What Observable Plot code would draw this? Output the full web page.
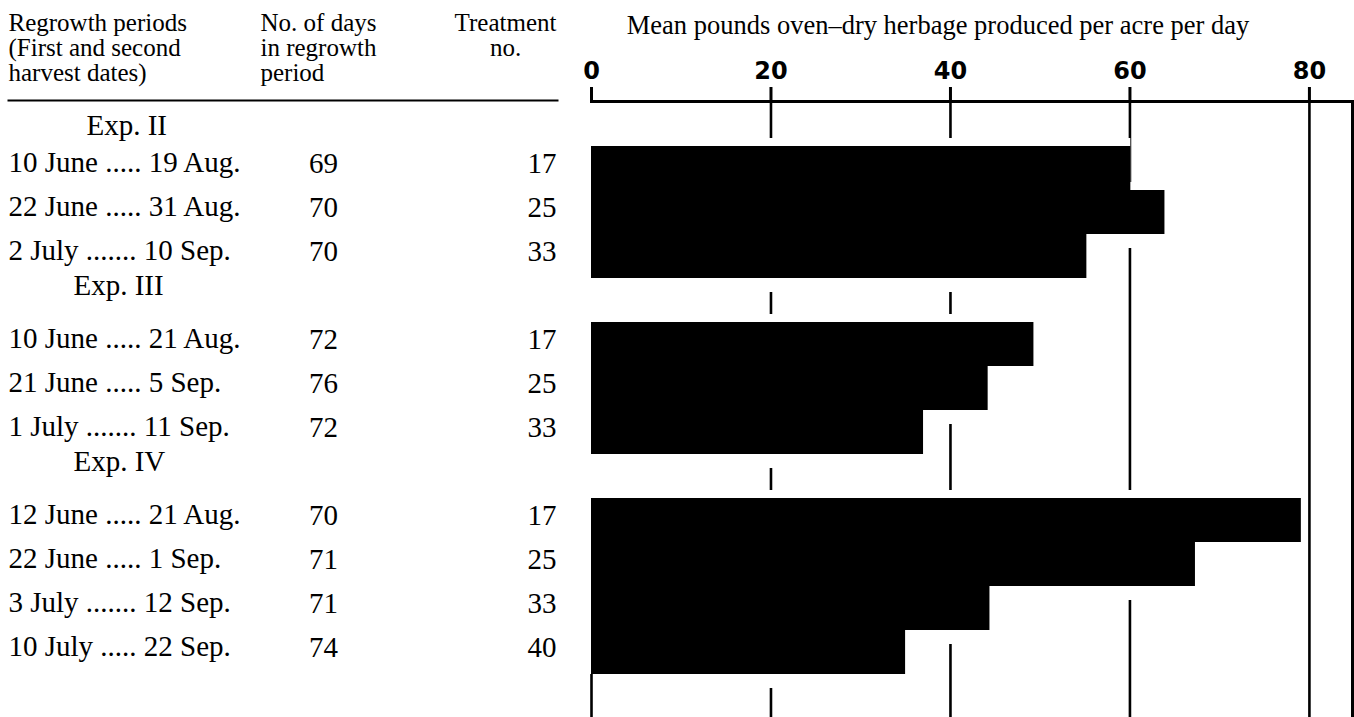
<!DOCTYPE html>
<html>
<head>
<meta charset="utf-8">
<script src="https://cdn.jsdelivr.net/npm/d3@7"></script>
<script src="https://cdn.jsdelivr.net/npm/@observablehq/plot@0.6"></script>
<style>
  html, body { margin: 0; padding: 0; background: #fff; }
  #chart svg { display: block; }
</style>
</head>
<body>
<div id="chart"></div>
<script>
// ---- data ----
const groups = ["Exp. II", "Exp. III", "Exp. IV"];
const groupOf = ["Exp. II", "Exp. II", "Exp. II", "Exp. III", "Exp. III", "Exp. III", "Exp. IV", "Exp. IV", "Exp. IV", "Exp. IV"];
const periods = [
  "10 June ..... 19 Aug.",
  "22 June ..... 31 Aug.",
  "2 July ....... 10 Sep.",
  "10 June ..... 21 Aug.",
  "21 June ..... 5 Sep.",
  "1 July ....... 11 Sep.",
  "12 June ..... 21 Aug.",
  "22 June ..... 1 Sep.",
  "3 July ....... 12 Sep.",
  "10 July ..... 22 Sep."
];
const days = [69, 70, 70, 72, 76, 72, 70, 71, 71, 74];
const treatments = [17, 25, 33, 17, 25, 33, 17, 25, 33, 40];
const herbage = [60.1, 63.9, 55.2, 49.3, 44.2, 37.0, 79.1, 67.3, 44.4, 35.0];
const xTicks = [0, 20, 40, 60, 80];
const colHeaders = ["Regrowth periods\n(First and second\nharvest dates)", "No. of days\nin regrowth\nperiod", "Treatment\nno."];
const axisTitle = "Mean pounds oven\u2013dry herbage produced per acre per day";

// ---- table built from the arrays ----
const rows = periods.map((p, i) => ({
  key: "row" + i, group: groupOf[i], period: p, days: days[i], treatment: treatments[i], value: herbage[i]
}));
const heads = groups.map((g, i) => ({ key: "head" + i, label: g, index: i }));
const domain = [];
groups.forEach((g, gi) => {
  domain.push("head" + gi);
  rows.filter(r => r.group === g).forEach(r => domain.push(r.key));
});
domain.push("tail");

const serif = "'Liberation Serif', 'Times New Roman', serif";
const hand = "'Comic Sans MS', 'DejaVu Sans', sans-serif";
const T = { fill: "black", fontFamily: serif };

const chart = Plot.plot({
  width: 1354,
  height: 717,
  marginLeft: 591,
  marginRight: 2,
  marginTop: 101,
  marginBottom: 0,
  x: { domain: [0, 84.8], axis: null },
  y: { type: "band", domain, range: [98, 722], padding: 0, axis: null },
  style: { fontFamily: serif, background: "white", color: "black", overflow: "visible" },
  marks: [
    // vertical grid lines
    Plot.ruleX(xTicks.filter(d => d > 0), { stroke: "black", strokeWidth: 2.6 }),
    // white gaps around bars
    Plot.barX(rows, { x: "value", y: "key", fill: "white", insetTop: -8, insetBottom: -14 }),
    // bars
    Plot.barX(rows, { x: "value", y: "key", fill: "black" }),
    // zero line below the last group
    Plot.tickX([0], { x: d => d, y: () => "tail", stroke: "black", strokeWidth: 2.6 }),
    // axis line and right border
    Plot.frame({ anchor: "top", stroke: "black", strokeWidth: 3 }),
    Plot.frame({ anchor: "right", stroke: "black", strokeWidth: 3 }),
    // table header underline
    Plot.frame({ anchor: "top", stroke: "black", strokeWidth: 2, insetLeft: -583, insetRight: 795, dy: -1 }),
    // axis ticks + labels
    Plot.axisX(xTicks, {
      anchor: "top", label: null, tickSize: 15, tickPadding: 8, strokeWidth: 3,
      fontSize: 24, fontFamily: hand, fontWeight: "bold", tickFormat: d => String(d)
    }),
    // axis title
    Plot.text([axisTitle], { ...T, frameAnchor: "top", text: d => d, dx: -34, dy: -86, fontSize: 26.5 }),
    // column headers
    Plot.text([colHeaders[0]], { ...T, frameAnchor: "top-left", text: d => d, textAnchor: "start", lineAnchor: "top", lineHeight: 1.0, dx: -583, dy: -88, fontSize: 25 }),
    Plot.text([colHeaders[1]], { ...T, frameAnchor: "top-left", text: d => d, textAnchor: "start", lineAnchor: "top", lineHeight: 1.0, dx: -331, dy: -88, fontSize: 25 }),
    Plot.text([colHeaders[2]], { ...T, frameAnchor: "top-left", text: d => d, textAnchor: "middle", lineAnchor: "top", lineHeight: 1.0, dx: -86, dy: -88, fontSize: 25 }),
    // group labels
    Plot.text(heads.filter(d => d.index === 0), { ...T, y: "key", text: "label", frameAnchor: "left", textAnchor: "start", dx: -505, dy: 1, fontSize: 29 }),
    Plot.text(heads.filter(d => d.index > 0), { ...T, y: "key", text: "label", frameAnchor: "left", textAnchor: "start", dx: -518, dy: -15, fontSize: 29 }),
    // row columns
    Plot.text(rows, { ...T, y: "key", text: "period", frameAnchor: "left", textAnchor: "start", dx: -583, dy: -6, fontSize: 29 }),
    Plot.text(rows, { ...T, y: "key", text: d => String(d.days), frameAnchor: "left", textAnchor: "middle", dx: -268, dy: -5, fontSize: 29 }),
    Plot.text(rows, { ...T, y: "key", text: d => String(d.treatment), frameAnchor: "left", textAnchor: "end", dx: -35, dy: -5, fontSize: 29 })
  ]
});
document.getElementById("chart").appendChild(chart);
</script>
</body>
</html>
